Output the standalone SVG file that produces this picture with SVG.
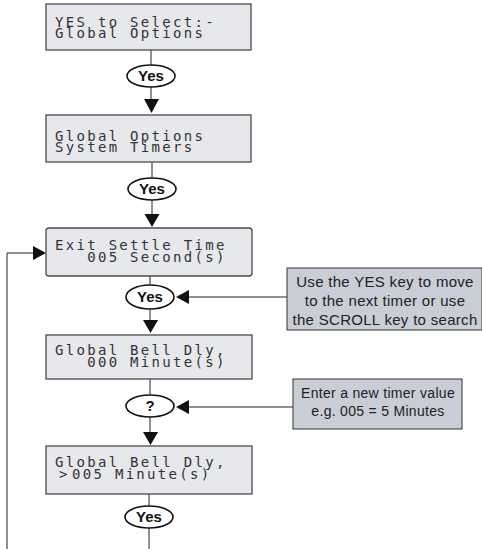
<svg xmlns="http://www.w3.org/2000/svg" width="482" height="549" viewBox="0 0 482 549">
<defs>
<style>
.lcd{fill:#e7e8eb;stroke:#4a4a4a;stroke-width:1.3}
.lt{font-family:"DejaVu Sans Mono","Liberation Mono",monospace;font-size:14px;letter-spacing:2.3px;fill:#333;white-space:pre}
.ov{fill:#fff;stroke:#111;stroke-width:1.6}
.yt{font-family:"Liberation Sans",Arial,sans-serif;font-weight:bold;font-size:15px;fill:#111;text-anchor:middle}
.ln{stroke:#222;stroke-width:1;fill:none}
.ah{fill:#111}
.co{fill:#c9cdd5;stroke:#333;stroke-width:1}
.ct{font-family:"Liberation Sans",Arial,sans-serif;font-size:15px;letter-spacing:0.3px;fill:#222;text-anchor:middle}
.ct2{font-family:"Liberation Sans",Arial,sans-serif;font-size:14px;letter-spacing:0.3px;fill:#222;text-anchor:middle}
</style>
</defs>
<g id="connectors">
<path class="ln" d="M151 50V65M151 87V99M152 162V178M152 200V214M150 276V285M150 309V320M150 379V395M150 417V432M149 494V506M149 528V549"/>
<path class="ln" d="M7 549V253H33"/>
<path class="ln" d="M189 297H287M189 407H293"/>
<polygon class="ah" points="144,99 159,99 151.5,113"/>
<polygon class="ah" points="144.5,214 159.5,214 152,227"/>
<polygon class="ah" points="143,320 158,320 150.5,333"/>
<polygon class="ah" points="143,432 158,432 150.5,445"/>
<polygon class="ah" points="33,246 33,260 46,253"/>
<polygon class="ah" points="189,290 189,304 176,297"/>
<polygon class="ah" points="189,400 189,414 176,407"/>
</g>
<g id="box1"><rect class="lcd" x="46" y="4" width="205" height="46"/>
<text class="lt"><tspan x="55" y="27">YES to Select:-</tspan><tspan x="55" y="38">Global Options</tspan></text></g>
<g id="yes1"><ellipse class="ov" cx="151" cy="76" rx="24" ry="11"/><text class="yt" x="151" y="81">Yes</text></g>
<g id="box2"><rect class="lcd" x="46" y="115" width="205" height="47"/>
<text class="lt"><tspan x="55" y="141">Global Options</tspan><tspan x="55" y="152">System Timers</tspan></text></g>
<g id="yes2"><ellipse class="ov" cx="152" cy="189" rx="24" ry="11"/><text class="yt" x="152" y="194">Yes</text></g>
<g id="box3"><rect class="lcd" x="46" y="228" width="206" height="48" rx="3"/>
<text class="lt"><tspan x="55" y="250">Exit Settle Time</tspan><tspan x="55" y="262">   005 Second(s)</tspan></text></g>
<g id="yes3"><ellipse class="ov" cx="150" cy="297" rx="24" ry="12"/><text class="yt" x="150" y="302">Yes</text></g>
<g id="note1"><rect class="co" x="287" y="268" width="195" height="62"/>
<text class="ct"><tspan x="385" y="287">Use the YES key to move</tspan><tspan x="385" y="306">to the next timer or use</tspan><tspan x="385" y="325">the SCROLL key to search</tspan></text></g>
<g id="box4"><rect class="lcd" x="46" y="335" width="206" height="44"/>
<text class="lt"><tspan x="55" y="355">Global Bell Dly,</tspan><tspan x="55" y="367">   000 Minute(s)</tspan></text></g>
<g id="q"><ellipse class="ov" cx="150" cy="406" rx="24" ry="11"/><text class="yt" x="150" y="411">?</text></g>
<g id="note2"><rect class="co" x="293" y="379" width="169" height="50"/>
<text class="ct2"><tspan x="378" y="398">Enter a new timer value</tspan><tspan x="378" y="416">e.g. 005 =  5 Minutes</tspan></text></g>
<g id="box5"><rect class="lcd" x="46" y="446" width="206" height="48"/>
<text class="lt"><tspan x="55" y="467">Global Bell Dly,</tspan><tspan x="59" y="479">&gt;</tspan><tspan x="72" y="479">005 Minute(s)</tspan></text></g>
<g id="yes4"><ellipse class="ov" cx="149" cy="517" rx="24" ry="11"/><text class="yt" x="149" y="522">Yes</text></g>
</svg>
